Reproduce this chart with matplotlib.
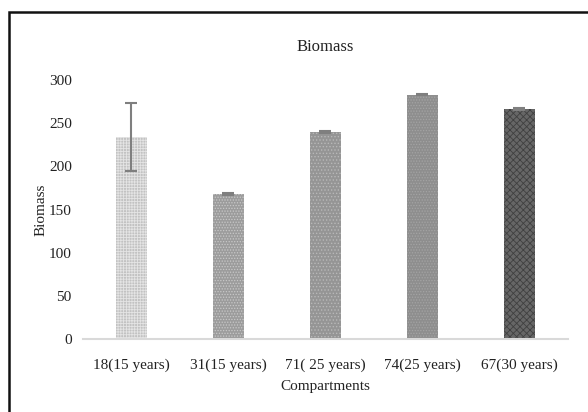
import matplotlib.pyplot as plt
from matplotlib.patches import Rectangle

plt.rcParams['font.family'] = ['Liberation Serif', 'DejaVu Serif']
plt.rcParams['hatch.linewidth'] = 0.6

categories = ['18(15 years)', '31(15 years)', '71( 25 years)', '74(25 years)', '67(30 years)']
biomass = [234, 168, 240, 283, 266]
errors = [39, 1, 1, 1, 1]

face_colors = ['#c2c2c2', '#9c9c9c', '#959595', '#8e8e8e', '#666666']
hatch_colors = ['#e4e4e4', '#c8c8c8', '#b8b8b8', '#a4a4a4', '#404040']
hatches = ['++++++', '......', '.....', '......', 'xxxxx']

fig = plt.figure(figsize=(5.88, 4.12), dpi=100)
ax = fig.add_axes([0.141, 0.177, 0.825, 0.629])

x = range(len(categories))
for i in x:
    ax.bar(i, biomass[i], width=0.32, color=face_colors[i],
           edgecolor=hatch_colors[i], hatch=hatches[i], linewidth=0)
ax.errorbar(list(x), biomass, yerr=errors, fmt='none', ecolor='#7f7f7f',
            elinewidth=1.5, capsize=4, capthick=1.5)

ax.set_ylim(0, 300)
ax.set_xlim(-0.5, len(categories) - 0.5)
ax.set_yticks([0, 50, 100, 150, 200, 250, 300])
ax.set_xticks(list(x))
ax.set_xticklabels(categories)
ax.tick_params(length=0, labelsize=11, colors='#222222')
ax.tick_params(axis='x', pad=14)
ax.tick_params(axis='y', pad=8)

for s in ['top', 'right', 'left']:
    ax.spines[s].set_visible(False)
ax.spines['bottom'].set_color('#d9d9d9')
ax.spines['bottom'].set_linewidth(1.5)

ax.set_title('Biomass', fontsize=12, color='#222222', pad=21)
ax.set_xlabel('Compartments', fontsize=11, color='#222222', labelpad=6)
ax.set_ylabel('Biomass', fontsize=11, color='#222222', labelpad=1)

# outer frame (cropped at right and bottom)
fig.patches.append(Rectangle((9 / 588, -0.1), 1.1, (412 - 12) / 412 + 0.1,
                             transform=fig.transFigure, fill=False,
                             edgecolor='#111111', linewidth=1.8))

plt.savefig('out.png', dpi=100)
